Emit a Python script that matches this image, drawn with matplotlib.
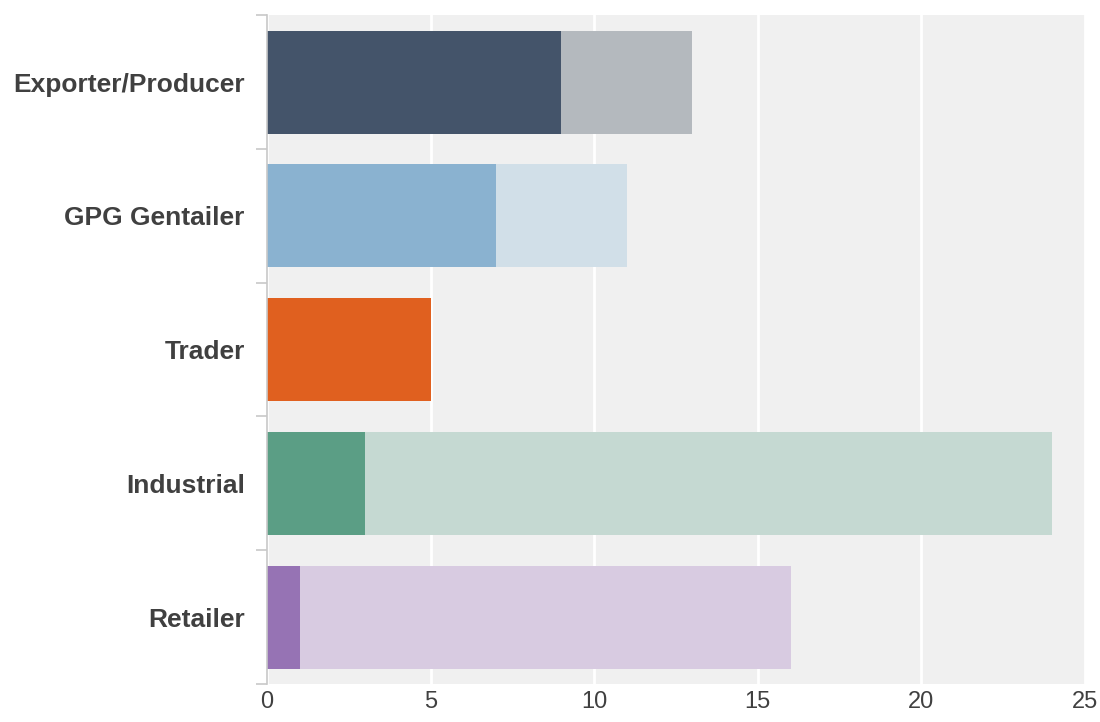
import matplotlib.pyplot as plt
import numpy as np

categories = ['Exporter/Producer', 'GPG Gentailer', 'Trader', 'Industrial', 'Retailer']
primary = [9, 7, 5, 3, 1]
secondary = [4, 4, 0, 21, 15]
dark_colors = ['#44546a', '#8ab2d0', '#e0601f', '#5b9e85', '#9673b4']
light_colors = ['#b4b9be', '#d1dfe8', '#f0c0a8', '#c5d9d2', '#d8cbe1']
x_ticks = [0, 5, 10, 15, 20, 25]

plt.rcParams['font.family'] = ['Liberation Sans', 'DejaVu Sans']

fig = plt.figure(figsize=(11, 7.22), dpi=100)
ax = fig.add_axes([0.2427, 0.0526, 0.7437, 0.9264])
ax.set_facecolor('#f0f0f0')

y = np.arange(len(categories))
ax.barh(y, primary, height=0.77, color=dark_colors, zorder=2)
ax.barh(y, secondary, left=primary, height=0.77, color=light_colors, zorder=2)

ax.set_xlim(0, 25)
ax.set_ylim(len(categories) - 0.5, -0.5)
ax.set_xticks(x_ticks)
ax.set_xticklabels([str(t) for t in x_ticks])
ax.xaxis.grid(True, color='white', linewidth=2, zorder=1)
ax.set_axisbelow(True)

ax.set_yticks(y)
ax.set_yticklabels(categories, fontsize=19, fontweight='bold', color='#404040')
ax.set_yticks(np.arange(-0.5, len(categories)), minor=True)
ax.tick_params(axis='y', which='major', length=0, pad=16)
ax.tick_params(axis='y', which='minor', length=8, color='#c8c8c8', width=1.2)
ax.tick_params(axis='x', length=0, pad=5, labelsize=17, labelcolor='#404040')

for s in ['top', 'right', 'bottom']:
    ax.spines[s].set_visible(False)
ax.spines['left'].set_color('#c8c8c8')
ax.spines['left'].set_linewidth(1.2)

fig.savefig('out.png', dpi=100)
